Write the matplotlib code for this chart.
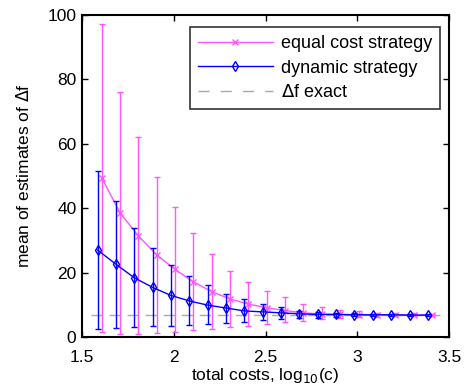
import matplotlib
matplotlib.use('Agg')
import matplotlib.pyplot as plt
from matplotlib.lines import Line2D
import numpy as np

plt.rcParams['font.family'] = ['Liberation Sans', 'DejaVu Sans']

# total costs, log10(c)
x_costs = np.arange(1.6, 3.45, 0.1)

# equal cost strategy
equal_mean = [49.5, 38.6, 31.4, 25.5, 21.0, 17.1, 14.1, 11.8, 10.2, 9.1, 8.2, 7.5, 7.1, 7.0, 6.9, 6.9, 6.9, 6.8, 6.8]
equal_upper = [97.1, 76.0, 62.0, 49.8, 40.5, 32.2, 25.7, 20.6, 17.2, 14.3, 12.3, 10.3, 9.2, 8.4, 8.0, 7.6, 7.4, 7.3, 7.2]
equal_lower = [1.5, 0.8, 0.9, 1.2, 1.7, 2.1, 2.5, 3.0, 3.5, 4.0, 4.6, 5.0, 5.5, 5.8, 6.1, 6.3, 6.4, 6.5, 6.5]

# dynamic strategy
dyn_mean = [27.0, 22.6, 18.4, 15.4, 12.9, 11.2, 9.9, 9.0, 8.1, 7.8, 7.5, 7.2, 7.0, 7.0, 6.9, 6.9, 6.9, 6.8, 6.8]
dyn_upper = [51.6, 42.3, 33.8, 27.5, 22.5, 18.8, 16.0, 13.5, 11.7, 10.2, 9.2, 8.2, 7.8, 7.5, 7.3, 7.2, 7.2, 7.1, 7.1]
dyn_lower = [2.6, 2.8, 3.0, 3.3, 3.5, 3.8, 4.0, 4.3, 4.8, 5.3, 5.6, 5.8, 6.0, 6.2, 6.4, 6.5, 6.5, 6.6, 6.6]

df_exact = 6.8

pink = '#ff55ff'
blue = '#0000ff'
gray = '#aaaaaa'

fig = plt.figure(figsize=(4.7, 3.87), dpi=100)
ax = fig.add_axes([82 / 470, 50 / 387, 367 / 470, 322 / 387])

xe = x_costs + 0.007
xd = x_costs - 0.015
em = np.array(equal_mean)
dm = np.array(dyn_mean)

ax.errorbar(xe, em, yerr=[em - np.array(equal_lower), np.array(equal_upper) - em],
            color=pink, marker='x', ms=5, mew=1, lw=1, elinewidth=1,
            capsize=2.5, capthick=1, zorder=2)
ax.errorbar(xd, dm, yerr=[dm - np.array(dyn_lower), np.array(dyn_upper) - dm],
            color=blue, marker='d', ms=5, mfc='none', mew=1, lw=1, elinewidth=1,
            capsize=2.5, capthick=1, zorder=3)
ax.plot([1.55, 3.45], [df_exact, df_exact], color=gray, lw=1,
        dashes=(8, 5), zorder=1)

ax.set_xlim(1.5, 3.5)
ax.set_ylim(0, 100)
ax.set_xticks([1.5, 2, 2.5, 3, 3.5])
ax.set_xticklabels(['1.5', '2', '2.5', '3', '3.5'])
ax.set_yticks([0, 20, 40, 60, 80, 100])
ax.tick_params(direction='in', top=True, right=True, labelsize=12.5, length=4, width=1)
ax.tick_params(axis='x', pad=9)
ax.tick_params(axis='y', pad=4)
for s in ax.spines.values():
    s.set_linewidth(1.5)

ax.set_xlabel(r'total costs, log$_{10}$(c)', fontsize=12.5, labelpad=1)
ax.set_ylabel(r'mean of estimates of $\Delta$f', fontsize=12.5, labelpad=11)

handles = [
    Line2D([], [], color=pink, marker='x', ms=5, mew=1, lw=1),
    Line2D([], [], color=blue, marker='d', ms=5, mfc='none', mew=1, lw=1),
    Line2D([], [], color=gray, lw=1, dashes=(8, 8)),
]
labels = ['equal cost strategy', 'dynamic strategy', r'$\Delta$f exact']
leg = ax.legend(handles, labels, loc='upper right',
                bbox_to_anchor=(1.0 - 9 / 367, 1.0 - 12 / 322),
                fontsize=13, frameon=True, fancybox=False, edgecolor='black',
                handlelength=4.1, handletextpad=0.45, borderpad=0.45,
                labelspacing=0.42, borderaxespad=0)
leg.get_frame().set_linewidth(1.2)

fig.savefig('out.png', dpi=100)
